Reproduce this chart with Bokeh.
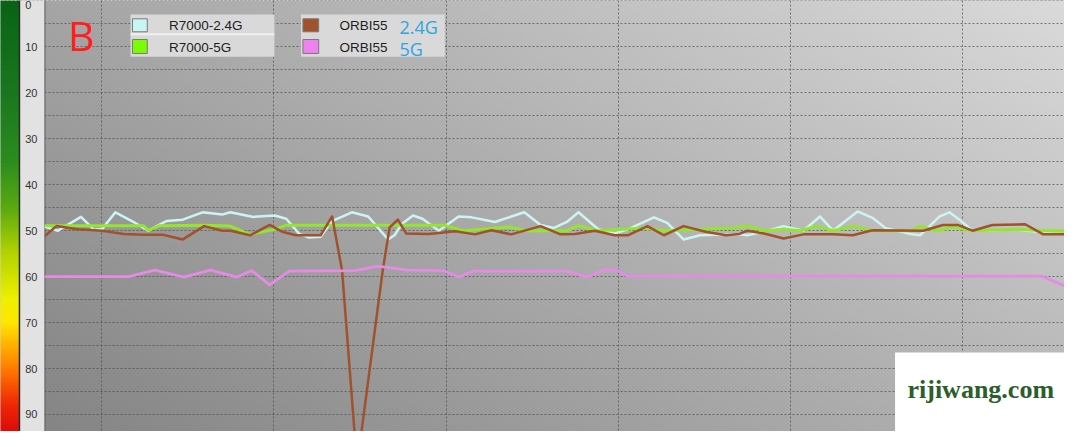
import numpy as np
from bokeh.plotting import figure
from bokeh.models import Range1d, Grid, FixedTicker
from bokeh.core.properties import value
from bokeh.embed import file_html
from bokeh.resources import INLINE

# ---------------- data ----------------
y_ticks = [0, 10, 20, 30, 40, 50, 60, 70, 80, 90]
x_grid = [0, 10, 20, 30, 40, 50]

legend_names = ["R7000-2.4G", "R7000-5G", "ORBI55", "ORBI55"]
legend_bands = ["", "", "2.4G", "5G"]

r7000_24_t = [-3.26, -2.56, -1.22, -0.46, 0.02, 0.78, 1.74, 2.69, 3.74, 4.70, 5.84, 6.99, 7.46, 8.80,
              10.04, 10.71, 11.47, 12.04, 12.71, 13.38, 14.53, 15.48, 16.63, 17.01, 17.41, 18.08, 18.63,
              19.59, 20.73, 21.50, 22.84, 24.55, 25.50, 26.27, 27.03, 27.70, 28.85, 29.80, 30.57, 32.09,
              32.86, 33.81, 34.77, 37.06, 37.53, 38.68, 39.63, 40.78, 41.74, 42.50, 43.93, 44.79, 45.55,
              47.08, 47.56, 48.70, 49.27, 49.85, 50.61, 51.37, 53.09, 54.58, 55.96]
r7000_24_v = [49.2, 50.0, 47.0, 49.8, 49.6, 46.0, 47.9, 50.0, 47.9, 47.6, 46.0, 46.5, 46.0, 47.0,
              46.7, 47.4, 50.7, 51.5, 51.3, 47.9, 46.0, 46.9, 51.9, 51.0, 48.6, 46.7, 47.4,
              50.0, 46.9, 47.1, 48.1, 46.0, 48.75, 49.4, 48.1, 46.0, 49.7, 50.6, 49.7, 47.1,
              48.3, 51.9, 51.0, 50.8, 51.0, 50.0, 49.0, 50.0, 46.9, 50.0, 45.8, 47.2, 49.4,
              50.8, 51.0, 46.9, 46.0, 47.6, 50.0, 50.0, 49.7, 50.3, 50.0]

r7000_5_t = [-3.26, 2.41, 2.69, 3.36, 5.96, 7.46, 8.61, 10.04, 10.71, 19.87, 21.02, 23.60, 24.74, 27.03,
             27.70, 28.85, 31.50, 32.65, 36.77, 37.53, 38.49, 39.63, 40.59, 41.54, 42.50, 43.65, 44.79,
             47.08, 47.56, 48.52, 49.47, 50.61, 53.28, 54.62, 55.96]
r7000_5_v = [48.9, 48.9, 49.9, 48.9, 48.8, 49.0, 50.8, 49.7, 48.8, 48.8, 50.0, 49.2, 50.0, 50.0,
             48.9, 50.0, 49.4, 50.0, 49.4, 49.0, 50.0, 49.7, 50.0, 49.0, 50.0, 49.0, 50.0,
             50.0, 49.0, 50.0, 49.2, 50.0, 49.7, 50.0, 50.0]

orbi_24_t = [-3.26, -2.65, -1.41, 0.02, 1.26, 2.41, 3.55, 4.70, 5.94, 6.99, 7.46, 8.61, 9.75, 10.52,
             11.28, 12.71, 13.38, 13.96, 14.83, 16.32, 16.72, 17.20, 17.68, 19.01, 20.54, 21.69, 22.64,
             23.79, 25.50, 26.65, 27.51, 28.65, 29.80, 30.57, 31.71, 32.66, 33.81, 35.15, 36.29, 37.06,
             37.53, 38.49, 39.63, 40.78, 42.50, 43.65, 44.79, 47.75, 48.89, 49.75, 50.61, 51.76, 53.67,
             54.72, 55.96]
orbi_24_v = [51.0, 49.0, 49.7, 50.0, 50.7, 50.9, 50.9, 51.9, 49.0, 50.0, 50.0, 51.0, 48.75, 50.3,
             51.0, 51.0, 46.9, 58.7, 101.0, 58.7, 49.3, 47.6, 50.6, 50.7, 50.1, 50.8, 49.9,
             50.8, 49.0, 50.8, 50.7, 50.0, 51.0, 51.0, 49.0, 51.0, 49.0, 50.3, 51.0, 50.7,
             50.0, 50.6, 51.7, 50.8, 50.8, 51.0, 49.9, 50.0, 48.75, 48.75, 50.0, 48.75, 48.6,
             50.8, 50.8]

orbi_5_t = [-3.26, 1.55, 3.08, 4.77, 6.30, 7.85, 8.71, 9.75, 10.88, 14.72, 16.04, 17.75, 19.87, 20.73,
            21.59, 27.03, 28.18, 29.23, 29.99, 30.57, 54.62, 55.96]
orbi_5_v = [60.0, 60.0, 58.6, 60.1, 58.6, 60.1, 58.7, 61.8, 58.8, 58.7, 57.7, 58.6, 58.7, 60.1,
            58.8, 58.8, 60.1, 58.5, 58.7, 59.9, 59.9, 62.0]

line_colors = ["#cdf3f3", "#92e62c", "#a0522d", "#e58ae5"]
swatch_colors = ["#c8f4f4", "#7cfc00", "#a0522d", "#ee82ee"]

# ---------------- layout helpers (reference pixel -> data) ----------------
W, H = 1064, 431
REF_W, REF_H = 1080.0, 447.0


def tx(px):
    return (px - 103.0) / 17.46


def vy(py):
    return py / 4.77


p = figure(width=W, height=H, x_range=Range1d(tx(0), tx(REF_W)),
           y_range=Range1d(vy(REF_H), vy(-0.5)),
           output_backend="svg", toolbar_location=None,
           x_axis_type=None, y_axis_type=None, min_border=0)
p.outline_line_color = None
p.background_fill_color = "#a8a8a8"
p.border_fill_color = "#a8a8a8"
p.grid.visible = False

# plot background gradient
gh, gw = 120, 240
yy = np.linspace(0, 1, gh)[:, None]
xx = np.linspace(0, 1, gw)[None, :]
TL, TR, BL, BR = 165, 218, 133, 180
g = TL * (1 - xx) * (1 - yy) + TR * xx * (1 - yy) + BL * (1 - xx) * yy + BR * xx * yy
bg = np.empty((gh, gw), dtype=np.uint32)
bv = bg.view(dtype=np.uint8).reshape((gh, gw, 4))
bv[..., 0] = g
bv[..., 1] = g
bv[..., 2] = g
bv[..., 3] = 255
p.image_rgba(image=[bg], x=tx(45), y=vy(-0.5), dw=tx(1080) - tx(45), dh=vy(447.5) - vy(-0.5),
             level="image")

# grids
p.add_layout(Grid(dimension=1, ticker=FixedTicker(ticks=list(range(0, 95, 5))),
                  grid_line_color="#4a4a4a", grid_line_dash="2 2", grid_line_alpha=0.7))
p.add_layout(Grid(dimension=0, ticker=FixedTicker(ticks=x_grid),
                  grid_line_color="#4a4a4a", grid_line_dash="2 2", grid_line_alpha=0.7))

# colour bar
ch = 200
cv_vals = np.linspace(0, 94, ch)
stops_v = [0, 20, 35, 45, 55, 65, 70, 80, 88, 94]
stops_r = [8, 25, 45, 90, 180, 240, 255, 255, 238, 220]
stops_g = [100, 120, 140, 170, 212, 240, 230, 125, 40, 10]
stops_b = [20, 30, 30, 16, 0, 0, 0, 0, 5, 10]
cb = np.empty((ch, 1), dtype=np.uint32)
cbv = cb.view(dtype=np.uint8).reshape((ch, 1, 4))
cbv[:, 0, 0] = np.interp(cv_vals, stops_v, stops_r)
cbv[:, 0, 1] = np.interp(cv_vals, stops_v, stops_g)
cbv[:, 0, 2] = np.interp(cv_vals, stops_v, stops_b)
cbv[:, 0, 3] = 255
p.image_rgba(image=[cb], x=tx(-1), y=vy(-0.5), dw=tx(19) - tx(-1), dh=vy(448) - vy(-0.5))

# label strip and separators
p.quad(left=[tx(19)], right=[tx(45)], top=[vy(-1)], bottom=[vy(448)],
       fill_color="#e2e2e2", line_color=None)
p.quad(left=[tx(18.5)], right=[tx(20)], top=[vy(-1)], bottom=[vy(448)],
       fill_color="#2a2a2a", line_color=None)
p.quad(left=[tx(44.6)], right=[tx(45.6)], top=[vy(-1)], bottom=[vy(448)],
       fill_color="#5a5a5a", line_color=None)

# tick labels (the topmost one kept fully inside the page)
p.text(x=[tx(25)], y=[y_ticks[0]], text=[str(y_ticks[0])],
       text_baseline="top", text_align="left", text_font=value("Liberation Sans"),
       text_font_size="11px", text_color="#333333")
p.text(x=[tx(25)] * (len(y_ticks) - 1), y=y_ticks[1:], text=[str(v) for v in y_ticks[1:]],
       text_baseline="middle", text_align="left", text_font=value("Liberation Sans"),
       text_font_size="11px", text_color="#333333")

# series
series = [(r7000_24_t, r7000_24_v, 2.5), (r7000_5_t, r7000_5_v, 3.0),
          (orbi_24_t, orbi_24_v, 2.5), (orbi_5_t, orbi_5_v, 2.8)]
for (t, v, lw), c in zip(series, line_colors):
    p.line(t, v, line_color=c, line_width=lw, line_join="round", line_cap="round")

# legend boxes
p.quad(left=[tx(132), tx(305)], right=[tx(278), tx(451)], top=[vy(14), vy(14)],
       bottom=[vy(58), vy(58)], fill_color="#d9d9d9", line_color=None)
p.quad(left=[tx(132)], right=[tx(278)], top=[vy(33.5)], bottom=[vy(35.5)],
       fill_color="#f0f0f0", line_color=None)
sw_l = [tx(134), tx(134), tx(307), tx(307)]
sw_r = [tx(149), tx(149), tx(323), tx(323)]
sw_t = [vy(18.5), vy(40), vy(18.5), vy(40)]
sw_b = [vy(32), vy(54.5), vy(32), vy(54.5)]
p.quad(left=sw_l, right=sw_r, top=sw_t, bottom=sw_b, fill_color=swatch_colors,
       line_color="#7a7a7a", line_width=1)
p.text(x=[tx(171), tx(171), tx(344), tx(344)], y=[vy(25), vy(48), vy(25), vy(48)],
       text=legend_names, text_baseline="middle", text_align="left",
       text_font=value("Liberation Sans"), text_font_size="13.5px", text_color="#1e1e1e")
p.text(x=[tx(405), tx(405)], y=[vy(26.5), vy(49.5)], text=legend_bands[2:],
       text_baseline="middle", text_align="left", text_font=value("Open Sans"),
       text_font_size="18px", text_color="#2ba6e3")

# big label
p.text(x=[tx(82)], y=[vy(35)], text=["B"], text_baseline="middle", text_align="center",
       text_font=value("Open Sans"), text_font_size="41px", text_color="#ff1e1e")

# watermark
p.quad(left=[tx(908)], right=[tx(1090)], top=[vy(365)], bottom=[vy(460)],
       fill_color="#ffffff", line_color=None)
p.text(x=[tx(995)], y=[vy(403)], text=["rijiwang.com"], text_baseline="middle",
       text_align="center", text_font=value("Liberation Serif"), text_font_style="bold",
       text_font_size="26px", text_color="#2a5e2a")

open("out.html", "w").write(file_html(p, INLINE))
